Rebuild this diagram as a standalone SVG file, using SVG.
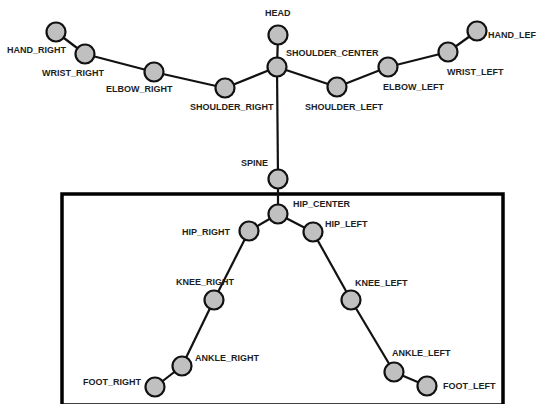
<svg xmlns="http://www.w3.org/2000/svg" width="539" height="404" viewBox="0 0 539 404">
<style>
.j{fill:#c0c0c0;stroke:#111;stroke-width:2.2}
.l{stroke:#111;stroke-width:2.2;fill:none}
text{font-family:"Liberation Sans",Arial,sans-serif;font-weight:bold;font-size:9px;fill:#1e1e1e}
</style>
<rect x="0" y="0" width="539" height="404" fill="#fff"/>
<rect id="box" x="62" y="194" width="441" height="211" fill="none" stroke="#000" stroke-width="3.5"/>
<g id="connectors" class="l">
<line x1="56" y1="32" x2="85" y2="54"/>
<line x1="85" y1="54" x2="154" y2="72"/>
<line x1="154" y1="72" x2="225" y2="88"/>
<line x1="225" y1="88" x2="277" y2="67"/>
<line x1="278" y1="35" x2="277" y2="67"/>
<line x1="277" y1="67" x2="337" y2="87"/>
<line x1="337" y1="87" x2="388" y2="67"/>
<line x1="388" y1="67" x2="448" y2="52"/>
<line x1="448" y1="52" x2="477" y2="31"/>
<line x1="277" y1="67" x2="278" y2="179"/>
<line x1="278" y1="179" x2="278" y2="214"/>
<line x1="278" y1="214" x2="249" y2="231"/>
<line x1="278" y1="214" x2="313" y2="232"/>
<line x1="249" y1="231" x2="214" y2="300"/>
<line x1="214" y1="300" x2="182" y2="366"/>
<line x1="182" y1="366" x2="155" y2="387"/>
<line x1="313" y1="232" x2="351" y2="300"/>
<line x1="351" y1="300" x2="394" y2="372"/>
<line x1="394" y1="372" x2="427" y2="386"/>
</g>
<g id="hand_right"><circle class="j" cx="56" cy="32" r="9.5"/><text x="7" y="53">HAND_RIGHT</text></g>
<g id="wrist_right"><circle class="j" cx="85" cy="54" r="9.5"/><text x="42" y="76">WRIST_RIGHT</text></g>
<g id="elbow_right"><circle class="j" cx="154" cy="72" r="9.5"/><text x="106" y="92">ELBOW_RIGHT</text></g>
<g id="shoulder_right"><circle class="j" cx="225" cy="88" r="9.5"/><text x="190" y="110">SHOULDER_RIGHT</text></g>
<g id="head"><circle class="j" cx="278" cy="35" r="9.5"/><text x="265" y="16">HEAD</text></g>
<g id="shoulder_center"><circle class="j" cx="277" cy="67" r="9.5"/><text x="286" y="56">SHOULDER_CENTER</text></g>
<g id="shoulder_left"><circle class="j" cx="337" cy="87" r="9.5"/><text x="305" y="110">SHOULDER_LEFT</text></g>
<g id="elbow_left"><circle class="j" cx="388" cy="67" r="9.5"/><text x="383" y="90">ELBOW_LEFT</text></g>
<g id="wrist_left"><circle class="j" cx="448" cy="52" r="9.5"/><text x="447" y="75">WRIST_LEFT</text></g>
<g id="hand_left"><circle class="j" cx="477" cy="31" r="9.5"/><text x="488" y="38">HAND_LEF</text></g>
<g id="spine"><circle class="j" cx="278" cy="179" r="9.5"/><text x="241" y="166">SPINE</text></g>
<g id="hip_center"><circle class="j" cx="278" cy="214" r="9.5"/><text x="293" y="207">HIP_CENTER</text></g>
<g id="hip_right"><circle class="j" cx="249" cy="231" r="9.5"/><text x="182" y="235">HIP_RIGHT</text></g>
<g id="hip_left"><circle class="j" cx="313" cy="232" r="9.5"/><text x="325" y="227">HIP_LEFT</text></g>
<g id="knee_right"><circle class="j" cx="214" cy="300" r="9.5"/><text x="176" y="285">KNEE_RIGHT</text></g>
<g id="knee_left"><circle class="j" cx="351" cy="300" r="9.5"/><text x="355" y="286">KNEE_LEFT</text></g>
<g id="ankle_right"><circle class="j" cx="182" cy="366" r="9.5"/><text x="195" y="361">ANKLE_RIGHT</text></g>
<g id="ankle_left"><circle class="j" cx="394" cy="372" r="9.5"/><text x="392" y="356">ANKLE_LEFT</text></g>
<g id="foot_right"><circle class="j" cx="155" cy="387" r="9.5"/><text x="83" y="385">FOOT_RIGHT</text></g>
<g id="foot_left"><circle class="j" cx="427" cy="386" r="9.5"/><text x="443" y="389">FOOT_LEFT</text></g>
</svg>
